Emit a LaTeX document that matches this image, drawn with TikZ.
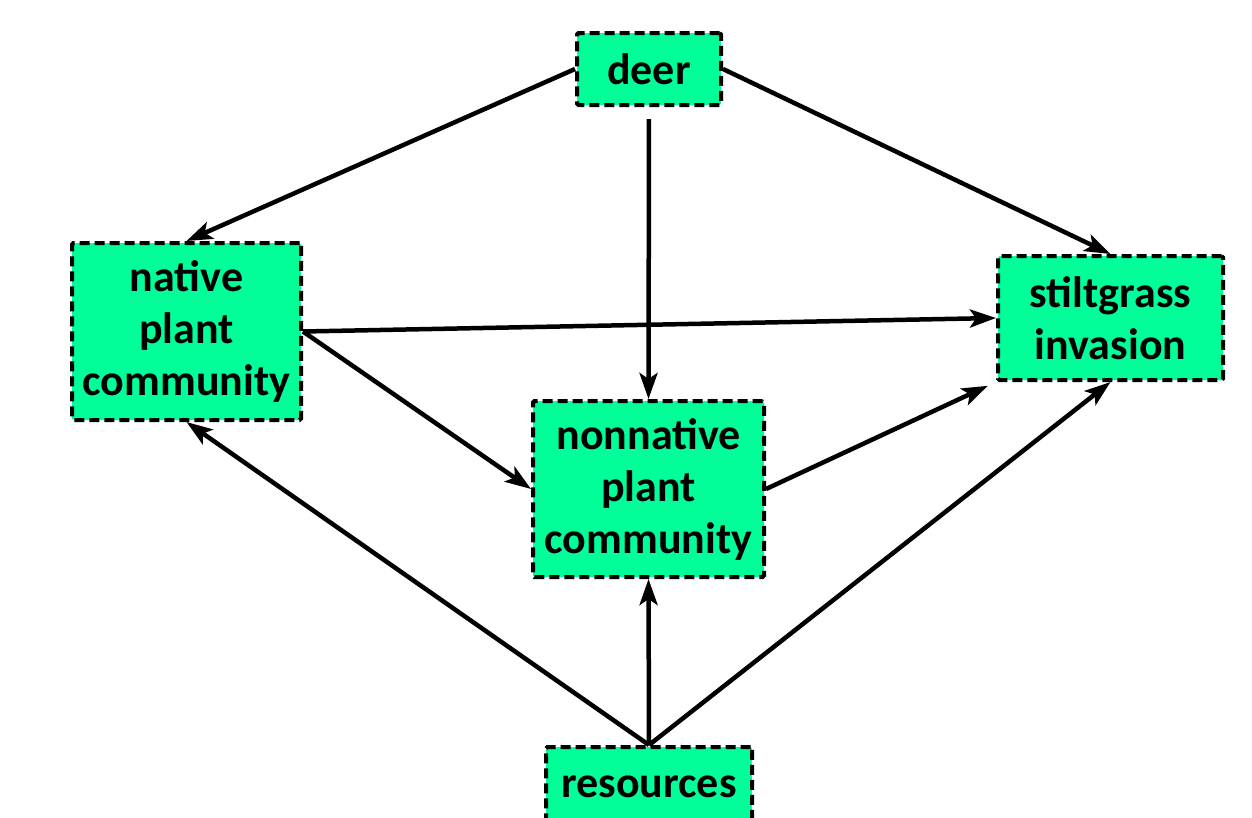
\documentclass[tikz,border=0pt]{standalone}
\usepackage{fontspec}
\setmainfont{Carlito}
\usetikzlibrary{arrows.meta}
\definecolor{boxgreen}{HTML}{00FF99}
\tikzset{
  box/.style={draw=black, fill=boxgreen, line width=4pt, dash pattern=on 10pt off 5pt,
    align=center, inner sep=0pt, font=\fontsize{44}{52}\selectfont\bfseries, rounded corners=1.5pt},
  conn/.style={line width=4.5pt, -{Stealth[length=26pt,width=18pt,inset=6pt]}}
}
\begin{document}
\begin{tikzpicture}[x=1pt,y=-1pt]
\useasboundingbox (0,0) rectangle (1252,817);
\node[box, minimum width=144pt, minimum height=72pt] (deer) at (649,69) {deer};
\node[box, minimum width=229pt, minimum height=177pt] (native) at (186.5,331.5) {native\\plant\\community};
\node[box, minimum width=225pt, minimum height=124pt] (stilt) at (1110.5,318) {stiltgrass\\invasion};
\node[box, minimum width=231pt, minimum height=176pt] (nonnative) at (648.5,489) {nonnative\\plant\\community};
\node[box, minimum width=206pt, minimum height=80pt] (res) at (649,787) {resources};
\draw[conn] (deer.west) -- (native.north);
\draw[conn] (deer.east) -- (stilt.north);
\draw[conn, shorten <=12pt] (deer.south) -- (nonnative.north);
\draw[conn] (native.east) -- (stilt.west);
\draw[conn] (native.east) -- (nonnative.west);
\draw[conn, shorten >=9pt] (nonnative.east) -- (stilt.south west);
\draw[conn] (res.north) -- (native.south);
\draw[conn] (res.north) -- (nonnative.south);
\draw[conn] (res.north) -- (stilt.south);
\end{tikzpicture}
\end{document}
